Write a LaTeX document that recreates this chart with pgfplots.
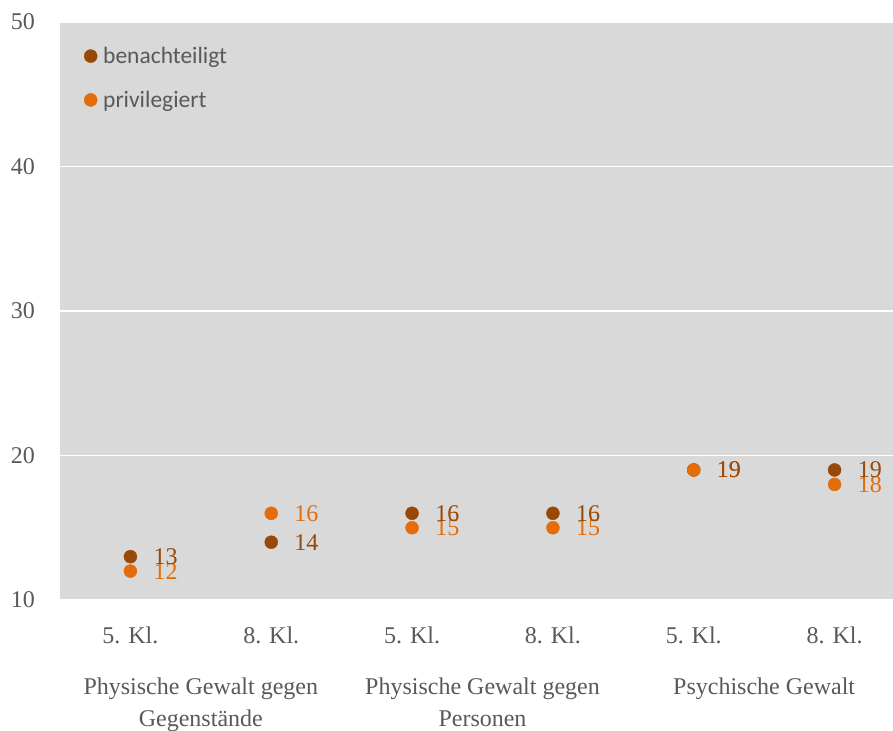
\documentclass[border=0pt]{standalone}
\usepackage{pgfplots}
\pgfplotsset{compat=1.18}
\usepackage{fontspec}
\setmainfont{Liberation Serif}
\newfontfamily\carlito{Carlito}
\definecolor{brownc}{HTML}{984807}
\definecolor{orangec}{HTML}{E46C0A}
\definecolor{bgc}{HTML}{D9D9D9}
\definecolor{txt}{HTML}{595959}
\begin{document}
\begin{tikzpicture}
\begin{axis}[
  scale only axis,
  width=845bp, height=578bp,
  xmin=-0.5, xmax=5.5,
  ymin=10, ymax=50,
  ytick={10,20,30,40,50},
  xtick={0,1,2,3,4,5},
  xticklabels={5. Kl.,8. Kl.,5. Kl.,8. Kl.,5. Kl.,8. Kl.},
  /pgf/number format/assume math mode=true,
  axis background/.style={fill=bgc},
  axis line style={draw=none},
  tick style={draw=none},
  major tick length=0pt,
  ymajorgrids,
  grid style={white, line width=1.3bp},
  clip=false,
  ticklabel style={font=\fontsize{24bp}{28bp}\selectfont, text=txt},
  xticklabel style={anchor=north, inner sep=0pt, yshift=-27bp},
  yticklabel style={anchor=east, inner sep=0pt, xshift=-25bp},
  legend image code/.code={\path[#1] plot coordinates {(0bp,0bp)};},
  legend style={at={(0,1)}, anchor=north west, xshift=24bp, yshift=-22bp,
    draw=none, fill=none, font=\fontsize{23.5bp}{27bp}\carlito, text=txt,
    row sep=20bp, inner sep=0pt,
    nodes={inner ysep=3bp, inner xsep=6bp}},
  legend cell align=left,
]
\coordinate (SW) at (rel axis cs:0,0);
% benachteiligt marks
\addplot[only marks, mark=*, mark size=6.5bp, color=brownc, mark options={draw=brownc, fill=brownc}]
  coordinates {(0,13) (1,14) (2,16) (3,16) (4,19) (5,19)};
\addlegendentry{benachteiligt}
% privilegiert marks and labels
\addplot[only marks, mark=*, mark size=6.5bp, color=orangec, mark options={draw=orangec, fill=orangec},
  nodes near coords, point meta=y,
  nodes near coords style={anchor=west, inner sep=0pt, xshift=23bp, text=orangec, font=\fontsize{24bp}{28bp}\selectfont}]
  coordinates {(0,12) (1,16) (2,15) (3,15) (4,19) (5,18)};
\addlegendentry{privilegiert}
% benachteiligt labels on top
\addplot[draw=none, mark=none, forget plot,
  nodes near coords, point meta=y,
  nodes near coords style={anchor=west, inner sep=0pt, xshift=23bp, text=brownc, font=\fontsize{24bp}{28bp}\selectfont}]
  coordinates {(0,13) (1,14) (2,16) (3,16) (4,19) (5,19)};
% group labels
\node[anchor=north, align=center, inner sep=0pt, text=txt, font=\fontsize{24bp}{32bp}\selectfont]
  at ([yshift=-78bp]axis cs:0.5,10) {Physische Gewalt gegen\\Gegenstände};
\node[anchor=north, align=center, inner sep=0pt, text=txt, font=\fontsize{24bp}{32bp}\selectfont]
  at ([yshift=-78bp]axis cs:2.5,10) {Physische Gewalt gegen\\Personen};
\node[anchor=north, align=center, inner sep=0pt, text=txt, font=\fontsize{24bp}{32bp}\selectfont]
  at ([yshift=-78bp]axis cs:4.5,10) {Psychische Gewalt};
\end{axis}
\pgfresetboundingbox
\path ([shift={(-60bp,-131bp)}]SW) rectangle ++(893bp,731bp);
\end{tikzpicture}
\end{document}
